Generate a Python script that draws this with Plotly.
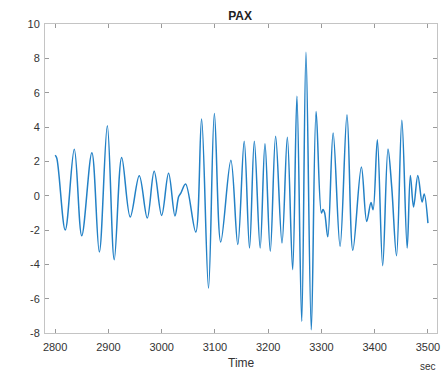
import plotly.graph_objects as go

# Extrema / shape points (time in sec, PAX value)
time = [2800, 2803, 2819, 2836, 2850, 2869, 2883, 2898, 2911, 2925, 2941, 2958, 2973,
        2986, 3000, 3013, 3025, 3032, 3036, 3045, 3064, 3075, 3088, 3099, 3111, 3130,
        3143, 3155, 3165, 3174, 3185, 3194, 3204, 3214, 3226, 3236, 3246, 3254, 3263,
        3271, 3281, 3290, 3300, 3303, 3306, 3312, 3322, 3335, 3348, 3359, 3375, 3385,
        3393, 3397, 3405, 3415, 3425, 3432, 3441, 3451, 3461, 3467, 3473, 3481, 3489,
        3493, 3500]
pax = [2.35, 2.2, -2.0, 2.7, -2.33, 2.5, -3.28, 4.08, -3.73, 2.23, -1.24, 1.16, -1.3,
       1.42, -1.15, 1.3, -1.18, -0.05, 0.15, 0.68, -2.12, 4.47, -5.38, 4.78, -2.7, 2.06,
       -2.85, 3.17, -3.05, 3.17, -3.05, 3.03, -3.24, 3.46, -2.76, 3.4, -4.31, 5.79, -7.32,
       8.35, -7.81, 4.91, -1.01, -0.8, -1.0, -2.4, 3.65, -2.95, 4.72, -3.18, 1.67, -1.5,
       -0.4, -0.82, 3.26, -4.08, 2.72, 0.5, -3.5, 4.39, -3.05, 1.18, -0.66, 1.18, -0.37,
       0.1, -1.6]

x_ticks = [2800, 2900, 3000, 3100, 3200, 3300, 3400, 3500]
y_ticks = [-8, -6, -4, -2, 0, 2, 4, 6, 8, 10]

FONT = "Liberation Sans, Arial, sans-serif"

fig = go.Figure()
fig.add_trace(go.Scatter(x=time, y=pax, mode="lines",
                         line=dict(color="#2381c6", width=1.5, shape="spline", smoothing=1.0),
                         showlegend=False))

axis_common = dict(showgrid=False, zeroline=False, showline=True, linecolor="#c4c4c4",
                   linewidth=1, mirror="ticks", ticks="inside", ticklen=4,
                   tickcolor="#9a9a9a", automargin=False,
                   tickfont=dict(family=FONT, size=11, color="#333333"))

fig.update_layout(
    width=443, height=373,
    margin=dict(l=45, r=6, t=24, b=40),
    paper_bgcolor="white", plot_bgcolor="white",
    title=dict(text="<b>PAX</b>", x=0.542, xanchor="center", xref="container",
               y=0.958, yanchor="middle", yref="container",
               font=dict(family=FONT, size=12, color="#222222")),
    xaxis=dict(range=[2781, 3517], tickvals=x_ticks, ticktext=[str(v) for v in x_ticks],
               ticklabelstandoff=4, **axis_common),
    yaxis=dict(range=[-8, 10], tickvals=y_ticks, ticktext=[str(v) for v in y_ticks],
               ticklabelstandoff=2, **axis_common),
    annotations=[
        dict(text="Time", x=0.5, y=0, xref="paper", yref="paper", xanchor="center",
             yanchor="middle", yshift=-30, showarrow=False,
             font=dict(family=FONT, size=12, color="#333333")),
        dict(text="sec", x=3500, y=0, xref="x", yref="paper", xanchor="center",
             yanchor="middle", yshift=-33, showarrow=False,
             font=dict(family=FONT, size=10, color="#333333")),
    ],
)

# Remove the default page margin so the figure sits at the window's top-left corner.
fig.write_html("out.html", config={"displayModeBar": False},
               post_script="document.body.style.margin='0';document.body.style.overflow='hidden';")
